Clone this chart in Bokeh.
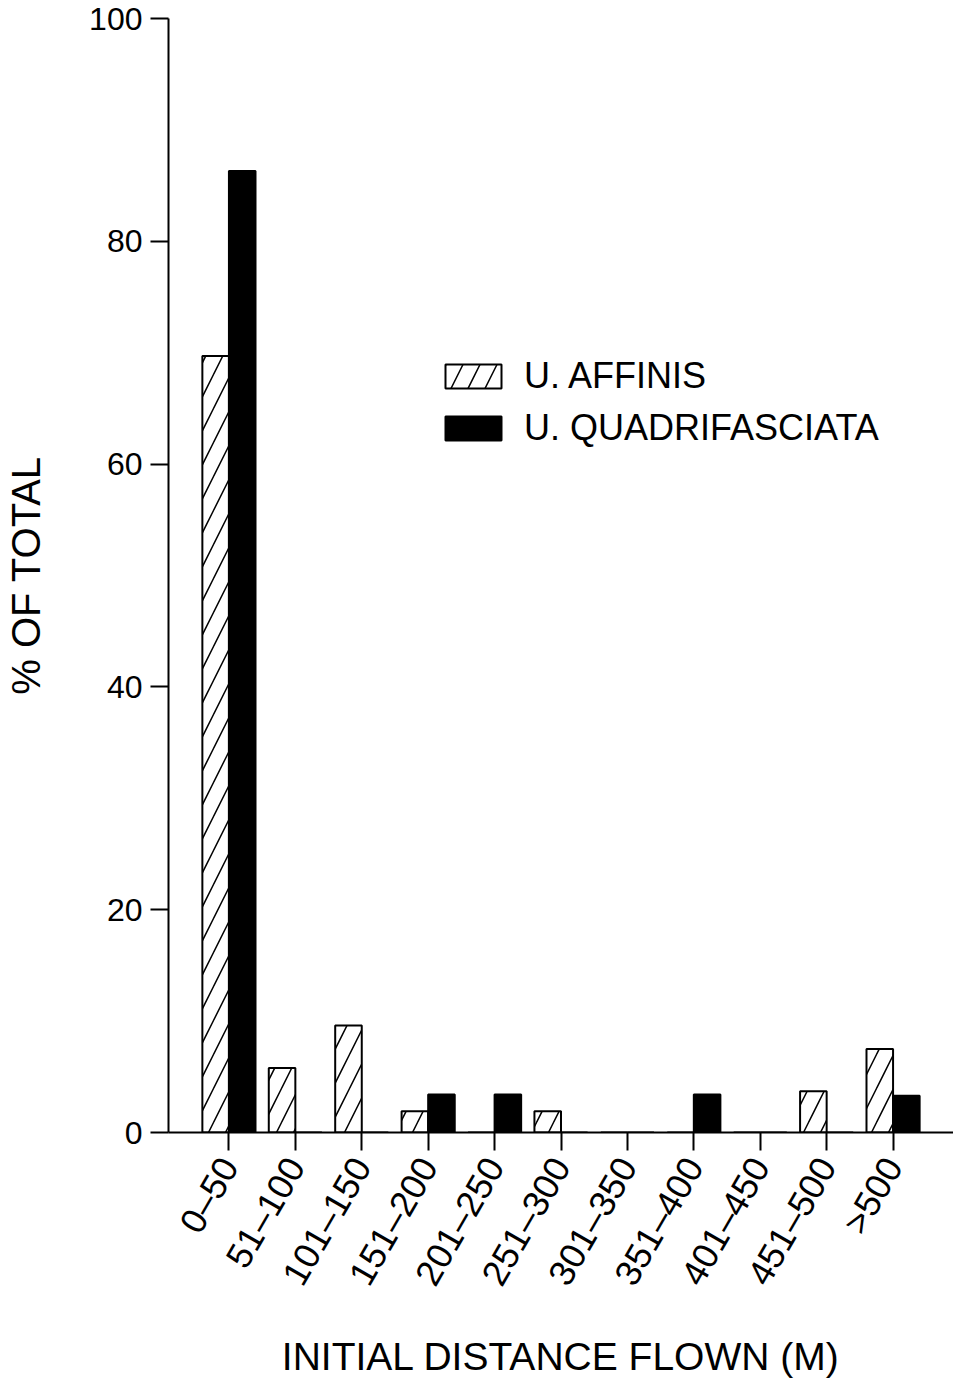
from math import pi
from bokeh.plotting import figure
from bokeh.models import FactorRange, Range1d, FixedTicker, Legend, LegendItem, ColumnDataSource
from bokeh.transform import dodge
from bokeh.embed import file_html
from bokeh.resources import INLINE

categories = ["0–50", "51–100", "101–150", "151–200", "201–250", "251–300",
              "301–350", "351–400", "401–450", "451–500", ">500"]
affinis = [69.7, 5.8, 9.6, 1.9, 0, 1.9, 0, 0, 0, 3.7, 7.5]
quadrifasciata = [86.3, 0, 0, 3.4, 3.4, 0, 0, 3.4, 0, 0, 3.3]
y_ticks = [0, 20, 40, 60, 80, 100]
series_names = ["U. AFFINIS", "U. QUADRIFASCIATA"]

FONT = "Liberation Sans"

src = ColumnDataSource(dict(cat=categories, aff=affinis, quad=quadrifasciata))

p = figure(width=953, height=1381,
           x_range=FactorRange(*categories, range_padding=0.41, range_padding_units="absolute"),
           y_range=Range1d(0, 100),
           output_backend="svg", toolbar_location=None,
           min_border_left=168, min_border_right=0, min_border_top=18, min_border_bottom=247)

r_aff = p.vbar(x=dodge("cat", -0.2, range=p.x_range), top="aff", width=0.4, source=src,
               fill_color="white", line_color="black", line_width=2,
               hatch_pattern="/", hatch_color="black", hatch_scale=34, hatch_weight=1.5)
r_quad = p.vbar(x=dodge("cat", 0.2, range=p.x_range), top="quad", width=0.4, source=src,
                fill_color="black", line_color="black", line_width=2)

p.outline_line_color = None
p.xgrid.grid_line_color = None
p.ygrid.grid_line_color = None
p.background_fill_color = "white"

# y axis
ya = p.yaxis[0]
ya.ticker = FixedTicker(ticks=y_ticks)
ya.minor_tick_line_color = None
ya.major_tick_out = 18
ya.major_tick_in = 0
ya.major_tick_line_width = 2
ya.axis_line_width = 2
ya.major_label_text_font = FONT
ya.major_label_text_font_size = "32px"
ya.major_label_text_color = "black"
ya.major_label_standoff = 8
ya.axis_label = "% OF TOTAL"
ya.axis_label_text_font = FONT
ya.axis_label_text_font_size = "40px"
ya.axis_label_text_font_style = "normal"
ya.axis_label_text_color = "black"
ya.axis_label_standoff = 38

# x axis
xa = p.xaxis[0]
xa.major_tick_out = 18
xa.major_tick_in = 0
xa.major_tick_line_width = 2
xa.axis_line_width = 2
xa.major_label_orientation = pi / 3
xa.major_label_text_font = FONT
xa.major_label_text_font_size = "36px"
xa.major_label_text_color = "black"
xa.major_label_standoff = 10
xa.axis_label = "INITIAL DISTANCE FLOWN (M)"
xa.axis_label_text_font = FONT
xa.axis_label_text_font_size = "39px"
xa.axis_label_text_font_style = "normal"
xa.axis_label_text_color = "black"
xa.axis_label_standoff = 30

legend = Legend(items=[LegendItem(label=series_names[0], renderers=[r_aff]),
                       LegendItem(label=series_names[1], renderers=[r_quad])],
                location=(270, 683), glyph_width=70, glyph_height=30,
                label_text_font=FONT, label_text_font_size="36px",
                label_text_color="black",
                label_standoff=16, spacing=10, padding=0, margin=0,
                border_line_color=None, background_fill_alpha=0)
p.add_layout(legend)

open("out.html", "w").write(file_html(p, INLINE))
